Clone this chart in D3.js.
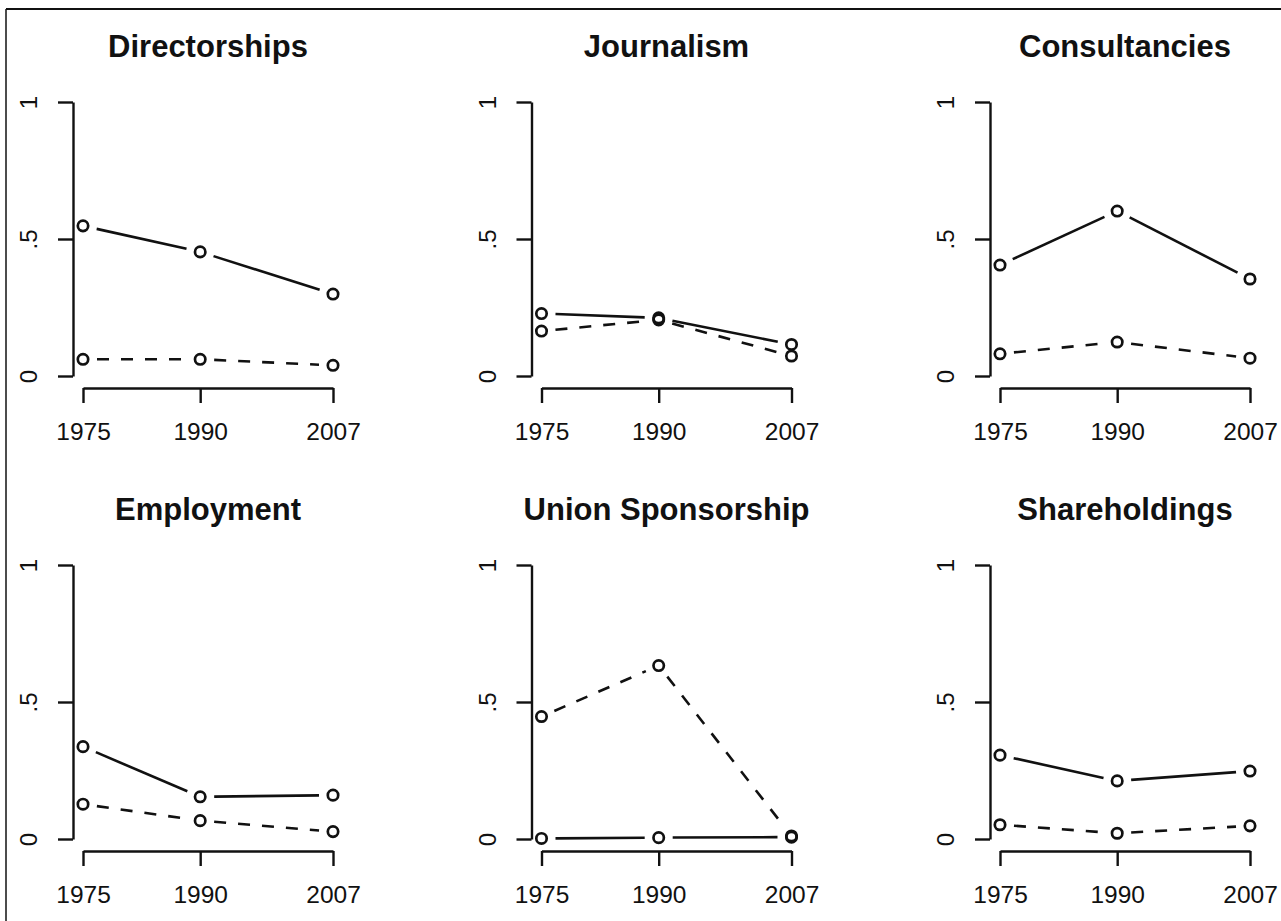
<!DOCTYPE html>
<html>
<head>
<meta charset="utf-8">
<script src="https://cdn.jsdelivr.net/npm/d3@7"></script>
<style>
  html, body { margin: 0; padding: 0; background: #fff; }
  svg { display: block; }
  text { font-family: "Liberation Sans", Arial, Helvetica, sans-serif; fill: #111; }
</style>
</head>
<body>
<svg id="chart" width="1281" height="921"></svg>
<script>
// ---- data ----
const years = [1975, 1990, 2007];
const panelTitles = ["Directorships", "Journalism", "Consultancies",
                     "Employment", "Union Sponsorship", "Shareholdings"];
// solid line series (one array per panel, values for 1975, 1990, 2007)
const solidValues = [
  [0.548, 0.453, 0.299],
  [0.228, 0.212, 0.115],
  [0.405, 0.602, 0.354],
  [0.337, 0.154, 0.160],
  [0.002, 0.005, 0.007],
  [0.306, 0.212, 0.248]
];
// dashed line series
const dashedValues = [
  [0.061, 0.061, 0.039],
  [0.164, 0.205, 0.073],
  [0.081, 0.124, 0.065],
  [0.127, 0.067, 0.027],
  [0.447, 0.633, 0.011],
  [0.052, 0.021, 0.048]
];
const yTicks = [0, 0.5, 1];
const yTickLabels = ["0", ".5", "1"];

// ---- layout ----
const svg = d3.select("#chart");
const ink = "#111";
const colStep = 458.5, rowStep = 463;
const x0 = 83, x1 = 333, yTop = 102, yBot = 376;

// frame
svg.append("line").attr("x1", 6).attr("x2", 6).attr("y1", 9).attr("y2", 921)
  .attr("stroke", ink).attr("stroke-width", 1.5);
svg.append("line").attr("x1", 6).attr("x2", 1281).attr("y1", 9).attr("y2", 9)
  .attr("stroke", ink).attr("stroke-width", 2);

panelTitles.forEach((title, i) => {
  const col = i % 3, row = Math.floor(i / 3);
  const dx = col * colStep, dy = row * rowStep;
  const x = d3.scaleLinear().domain([1975, 2007]).range([x0 + dx, x1 + dx]);
  const y = d3.scaleLinear().domain([0, 1]).range([yBot + dy, yTop + dy]);
  const g = svg.append("g");

  // title
  g.append("text")
    .attr("x", (x.range()[0] + x.range()[1]) / 2)
    .attr("y", 57 + dy)
    .attr("text-anchor", "middle")
    .attr("font-weight", "bold")
    .attr("font-size", 31)
    .text(title);

  // y axis
  const yAxis = g.append("g")
    .attr("transform", `translate(${x(1975) - 10},0)`)
    .call(d3.axisLeft(y).tickValues(yTicks).tickFormat((d, k) => yTickLabels[k])
      .tickSize(15).tickSizeOuter(0));
  yAxis.selectAll(".tick text")
    .attr("x", 0).attr("dy", 0)
    .attr("transform", "translate(-36,0) rotate(-90)")
    .attr("text-anchor", "middle")
    .attr("font-size", 24);

  // x axis
  const xAxis = g.append("g")
    .attr("transform", `translate(0,${y(0) + 12})`)
    .call(d3.axisBottom(x).tickValues(years).tickFormat(d3.format("d"))
      .tickSize(15).tickSizeOuter(0).tickPadding(20));
  xAxis.selectAll(".tick text").attr("font-size", 24.5);

  [xAxis, yAxis].forEach(a => {
    a.select(".domain").attr("stroke", ink).attr("stroke-width", 2.4);
    a.selectAll(".tick line").attr("stroke", ink).attr("stroke-width", 2.4);
    a.selectAll("text").attr("fill", ink).attr("font-family", null);
  });

  // series: lines with gaps around points (type "b")
  const gap = 14;
  [[solidValues[i], null], [dashedValues[i], "12,12"]].forEach(([vals, dash]) => {
    const pts = years.map((yr, k) => [x(yr), y(vals[k])]);
    const segs = d3.pairs(pts).map(([a, b]) => {
      const len = Math.hypot(b[0] - a[0], b[1] - a[1]);
      const ux = (b[0] - a[0]) / len, uy = (b[1] - a[1]) / len;
      return len > 2 * gap ? [a[0] + ux * gap, a[1] + uy * gap, b[0] - ux * gap, b[1] - uy * gap] : null;
    }).filter(s => s);
    g.selectAll(null).data(segs).enter().append("line")
      .attr("x1", s => s[0]).attr("y1", s => s[1])
      .attr("x2", s => s[2]).attr("y2", s => s[3])
      .attr("stroke", ink).attr("stroke-width", 2.6)
      .attr("stroke-dasharray", dash);
    g.selectAll(null).data(pts).enter().append("circle")
      .attr("cx", p => p[0]).attr("cy", p => p[1]).attr("r", 5.2)
      .attr("fill", "none").attr("stroke", ink).attr("stroke-width", 2.7);
  });
});
</script>
</body>
</html>
